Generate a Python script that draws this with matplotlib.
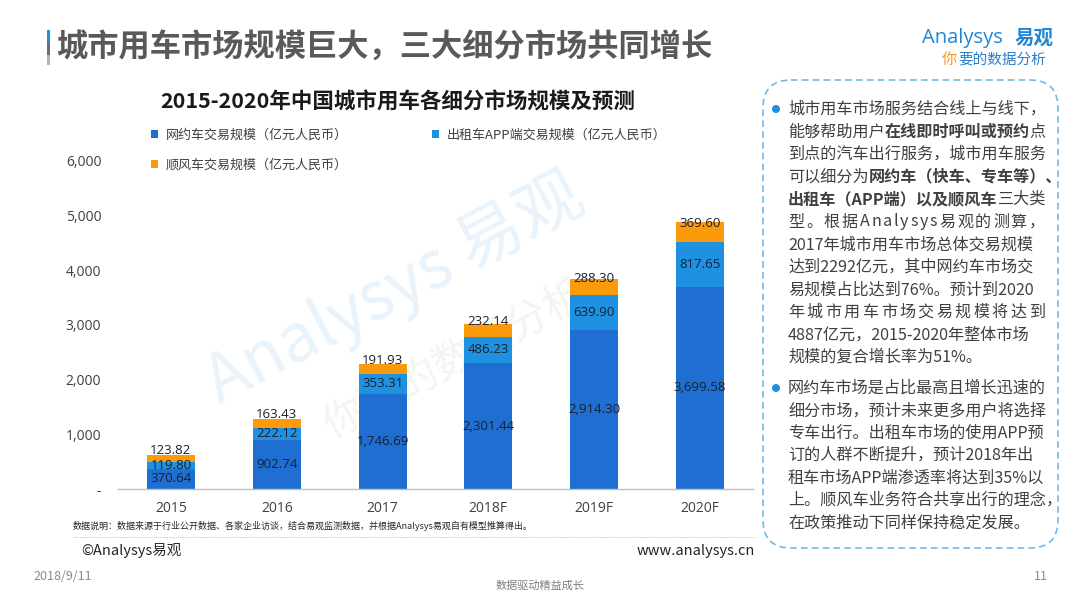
import matplotlib
matplotlib.use("Agg")
import matplotlib.pyplot as plt
import numpy as np
from matplotlib.patches import FancyBboxPatch, Rectangle, Circle

# ---------------- data ----------------
years = ['2015', '2016', '2017', '2018F', '2019F', '2020F']
ride_hailing = [370.64, 902.74, 1746.69, 2301.44, 2914.30, 3699.58]
taxi_app = [119.80, 222.12, 353.31, 486.23, 639.90, 817.65]
carpool = [123.82, 163.43, 191.93, 232.14, 288.30, 369.60]
series_names = ['网约车交易规模（亿元人民币）', '出租车APP端交易规模（亿元人民币）', '顺风车交易规模（亿元人民币）']
y_ticks = [0, 1000, 2000, 3000, 4000, 5000, 6000]

title = '城市用车市场规模巨大，三大细分市场共同增长'
chart_title = '2015-2020年中国城市用车各细分市场规模及预测'
footnote = '数据说明：数据来源于行业公开数据、各家企业访谈，结合易观监测数据，并根据Analysys易观自有模型推算得出。'

# (segments, justify)
para1 = [
    ([('城市用车市场服务结合线上与线下，', False)], False),
    ([('能够帮助用户', False), ('在线即时呼叫或预约', True), ('点', False)], False),
    ([('到点的汽车出行服务，城市用车服务', False)], False),
    ([('可以细分为', False), ('网约车（快车、专车等）、', True)], False),
    ([('出租车（APP端）以及顺风车', True), ('三大类', False)], False),
    ([('型。根据 Analysys 易观的测算，', False)], True),
    ([('2017年城市用车市场总体交易规模', False)], False),
    ([('达到2292亿元，其中网约车市场交', False)], False),
    ([('易规模占比达到76%。预计到2020', False)], False),
    ([('年城市用车市场交易规模将达到', False)], True),
    ([('4887亿元，2015-2020年整体市场', False)], False),
    ([('规模的复合增长率为51%。', False)], False),
]
para2 = [
    ([('网约车市场是占比最高且增长迅速的', False)], False),
    ([('细分市场，预计未来更多用户将选择', False)], False),
    ([('专车出行。出租车市场的使用APP预', False)], False),
    ([('订的人群不断提升，预计2018年出', False)], False),
    ([('租车市场APP端渗透率将达到35%以', False)], False),
    ([('上。顺风车业务符合共享出行的理念，', False)], False),
    ([('在政策推动下同样保持稳定发展。', False)], False),
]

# ---------------- style ----------------
CJK = ['Noto Sans CJK SC', 'DejaVu Sans']
NUM = ['Open Sans', 'Noto Sans CJK SC', 'DejaVu Sans']
plt.rcParams['font.family'] = CJK
C_DARK = '#1f6fd2'
C_LIGHT = '#1e92e0'
C_ORANGE = '#fb9b0c'

W, H = 1080, 608
fig = plt.figure(figsize=(W / 100, H / 100), dpi=100)
fig.patch.set_facecolor('white')

# background axes (watermark), in pixel coordinates
bg = fig.add_axes([0, 0, 1, 1], zorder=0)
bg.set_xlim(0, W)
bg.set_ylim(H, 0)
bg.axis('off')
bg.text(395, 290, 'Analysys 易观', fontsize=48, rotation=28, color='#e9f3fb',
        ha='center', va='center', family=CJK)
bg.text(455, 360, '你要的数据分析', fontsize=30, rotation=28, color='#f3f5f1',
        ha='center', va='center', family=CJK)

# chart axes
L, R, T, B = 118, 753, 161, 489
ax = fig.add_axes([L / W, 1 - B / H, (R - L) / W, (B - T) / H], zorder=1)
ax.patch.set_alpha(0)

x = np.arange(len(years))
bw = 0.455
a = np.array(ride_hailing)
b = np.array(taxi_app)
c = np.array(carpool)
bars1 = ax.bar(x, a, bw, color=C_DARK, label=series_names[0], zorder=2)
bars2 = ax.bar(x, b, bw, bottom=a, color=C_LIGHT, label=series_names[1], zorder=2)
bars3 = ax.bar(x, c, bw, bottom=a + b, color=C_ORANGE, label=series_names[2], zorder=2)

lab_color = '#1a1f2e'
for i in range(len(years)):
    ax.text(x[i], a[i] / 2, f'{a[i]:,.2f}', ha='center', va='center',
            fontsize=9.5, color=lab_color, family=NUM, zorder=3)
    ax.text(x[i], a[i] + b[i] / 2, f'{b[i]:,.2f}', ha='center', va='center',
            fontsize=9.5, color=lab_color, family=NUM, zorder=3)
    ax.annotate(f'{c[i]:,.2f}', (x[i], a[i] + b[i] + c[i] / 2), xytext=(0, 1.5),
                textcoords='offset points', ha='center', va='bottom',
                fontsize=9.5, color=lab_color, family=NUM, zorder=3)

ax.set_xlim(-0.5, len(years) - 0.5)
ax.set_ylim(0, 6000)
ax.set_yticks(y_ticks)
ax.set_yticklabels(['-' if v == 0 else f'{v:,}' for v in y_ticks])
ax.set_xticks(x)
ax.set_xticklabels(years)
for s in ['top', 'right', 'left']:
    ax.spines[s].set_visible(False)
ax.spines['bottom'].set_color('#bfbfbf')
ax.spines['bottom'].set_linewidth(1.0)
ax.tick_params(axis='y', length=0, pad=12, labelsize=10, labelcolor='#404040')
ax.tick_params(axis='x', length=0, pad=9, labelsize=10, labelcolor='#404040')
for t in ax.get_yticklabels() + ax.get_xticklabels():
    t.set_family(NUM)

# legend (order arranged so columns fill: row1 = dark, light; row2 = orange)
leg = ax.legend([bars1, bars3, bars2], [series_names[0], series_names[2], series_names[1]],
                ncol=2, loc='upper left', bbox_to_anchor=(151 / W, 1 - 129 / H),
                bbox_transform=fig.transFigure, frameon=False, fontsize=9.4,
                handlelength=0.55, handleheight=0.55, handletextpad=0.6,
                labelspacing=1.3, columnspacing=6.4, borderaxespad=0, borderpad=0)
for t in leg.get_texts():
    t.set_color('#404040')

# overlay axes for decorations / texts
ov = fig.add_axes([0, 0, 1, 1], zorder=3)
ov.set_xlim(0, W)
ov.set_ylim(H, 0)
ov.axis('off')

# title with left accent bar
ov.add_patch(Rectangle((47, 30), 3, 12, color='#1e92e0', lw=0))
ov.add_patch(Rectangle((47, 42), 3, 13, color='#6d6d6d', lw=0))
ov.add_patch(Rectangle((47, 55), 3, 10, color='#b5b5b5', lw=0))
ov.text(56, 47, title, fontsize=22.5, fontweight='bold', color='#595959',
        ha='left', va='center', family=CJK)

# logo
ov.text(922, 38, 'Analysys', fontsize=14.5, color='#1f86d6', ha='left', va='center',
        family=NUM)
ov.text(1054, 38, '易观', fontsize=14, color='#1f86d6', ha='right', va='center',
        family=CJK, fontweight='bold')
ov.text(942, 59, '你', fontsize=11, color='#f39a1e', ha='left', va='center', family=CJK,
        style='italic')
ov.text(958, 59, '要的数据分析', fontsize=10.5, color='#2a7fc9', ha='left', va='center',
        family=CJK, style='italic')

# chart title
ov.text(398, 102, chart_title, fontsize=15.5, fontweight='bold', color='#1a1a1a',
        ha='center', va='center', family=CJK)

# footnote and footer
ov.text(73, 526, footnote, fontsize=6.5, color='#262626', ha='left', va='center', family=CJK)
ov.plot([73, 755], [537, 537], color='#c8c8c8', lw=0.8, ls=(0, (1, 1)))
ov.text(81, 551, '©Analysys易观', fontsize=10.5, color='#262626', ha='left', va='center', family=CJK)
ov.text(755, 551, 'www.analysys.cn', fontsize=10.5, color='#262626', ha='right', va='center', family=CJK)
ov.text(33, 577, '2018/9/11', fontsize=9, color='#8c8c8c', ha='left', va='center', family=CJK)
ov.text(1048, 577, '11', fontsize=9, color='#8c8c8c', ha='right', va='center', family=CJK)
ov.text(540, 586, '数据驱动精益成长', fontsize=8, color='#7f7f7f', ha='center', va='center', family=CJK)

# right dashed box
box = FancyBboxPatch((763, 80), 295, 468, boxstyle='round,pad=0,rounding_size=28',
                     fill=False, edgecolor='#74b9e4', lw=1.2, ls=(0, (4, 2.5)))
ov.add_patch(box)

renderer = fig.canvas.get_renderer()
TX0, TX1 = 788, 1045
FS = 11.6


def text_width(txt, bold):
    t = ov.text(0, 0, txt, fontsize=FS, family=CJK, fontweight='bold' if bold else 'normal')
    w = t.get_window_extent(renderer).width
    t.remove()
    return w


def draw_rich(y0, segments, justify):
    if justify:
        # full justification: spread the characters across the line width
        chars = [(ch, bold) for txt, bold in segments for ch in txt.replace(' ', '')]
        widths = [text_width(ch, bold) for ch, bold in chars]
        gap = (TX1 - TX0 - sum(widths)) / max(len(chars) - 1, 1)
        xx = TX0
        for (ch, bold), w in zip(chars, widths):
            ov.text(xx, y0, ch, fontsize=FS, color='#404040', ha='left', va='center',
                    family=CJK, fontweight='bold' if bold else 'normal')
            xx += w + gap
        return
    xx = TX0
    for txt, bold in segments:
        t = ov.text(xx, y0, txt, fontsize=FS, color='#404040', ha='left', va='center',
                    family=CJK, fontweight='bold' if bold else 'normal')
        xx += t.get_window_extent(renderer).width


def draw_para(y_start, lines, step=22.6):
    ov.add_patch(Circle((776, y_start), 4, color='#1e8fe0', lw=0))
    for k, (segs, just) in enumerate(lines):
        draw_rich(y_start + k * step, segs, just)


draw_para(109, para1)
draw_para(388, para2, step=22.5)

fig.savefig('out.png', dpi=100, facecolor='white')
